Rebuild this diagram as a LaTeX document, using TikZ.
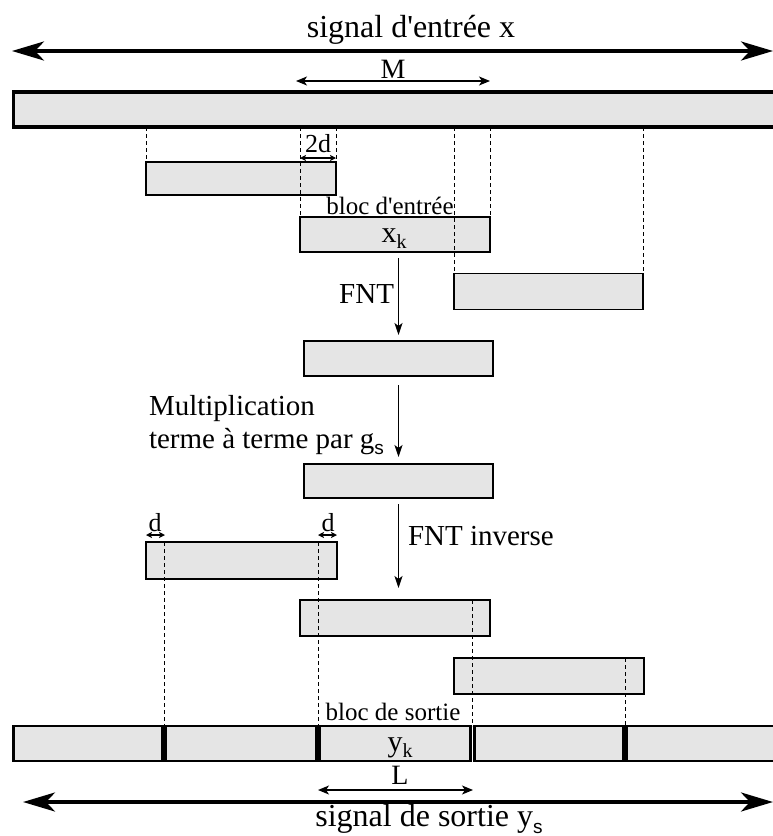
\documentclass[tikz,border=0pt]{standalone}
\usepackage{fontspec}
\setmainfont{Liberation Serif}
\newfontfamily\subsans{Liberation Sans}
\usetikzlibrary{arrows.meta,calc}
\definecolor{boxgray}{RGB}{229,229,229}
\newcommand{\fsz}[1]{\fontsize{#1}{#1}\selectfont}
\newcommand{\subk}[1]{\raisebox{-0.22em}{\fsz{20}#1}}
\newcommand{\subs}[1]{\raisebox{-0.22em}{\fsz{19}\subsans #1}}
\begin{document}
\begin{tikzpicture}[x=1pt,y=-1pt,
  blk/.style={draw, line width=1.6pt, fill=boxgray, inner sep=0pt, outer sep=0pt},
  bar/.style={draw, line width=3.2pt, fill=boxgray, inner sep=0pt, outer sep=0pt},
  seg/.style={draw, line width=2.8pt, fill=boxgray, inner sep=0pt, outer sep=0pt, minimum height=35pt},
  dsh/.style={line width=0.9pt, dash pattern=on 4pt off 3pt},
  bigarrow/.style={line width=3.6pt, {Stealth[length=32pt,width=19pt,inset=9pt]}-{Stealth[length=32pt,width=19pt,inset=9pt]}},
  dimarrow/.style={line width=1.4pt, {Stealth[length=11pt,width=9pt,inset=3pt]}-{Stealth[length=11pt,width=9pt,inset=3pt]}},
  tinyarrow/.style={line width=1.2pt, {Stealth[length=6pt,width=6pt,inset=1.5pt]}-{Stealth[length=6pt,width=6pt,inset=1.5pt]}},
  flow/.style={line width=1.4pt, -{Stealth[length=12pt,width=8pt,inset=3pt]}},
  txt/.style={inner sep=0pt, outer sep=0pt}
]
\useasboundingbox (0,0) rectangle (773,836);

% ---- input signal ----
\node[txt, anchor=base, font=\fsz{32}] (title) at (411,37) {signal d\textquotesingle entrée x};
\coordinate (tl) at (12,51);
\coordinate (tr) at (773,51);
\draw[bigarrow] (tl) -- (tr);
\node[txt, anchor=base, font=\fsz{28}] (Mlab) at (393,78) {M};
\coordinate (ml) at (296,81);
\coordinate (mr) at (490,81);
\draw[dimarrow] (ml) -- (mr);
\node[bar, minimum width=776.5pt, minimum height=35pt] (inbar) at (401.75,109.5) {};

% ---- input blocks ----
\node[blk, minimum width=190pt, minimum height=33pt] (b1) at (241,178.5) {};
\node[blk, minimum width=190pt, minimum height=35pt] (bx) at (395,234.5) {};
\node[blk, minimum width=189pt, minimum height=36pt] (b3) at (548.5,291.5) {};
\node[blk, minimum width=189pt, minimum height=35pt] (b4) at (398.5,358.5) {};
\node[blk, minimum width=189pt, minimum height=34pt] (b5) at (398.5,481) {};
\node[blk, minimum width=191pt, minimum height=37pt] (b6) at (241.5,560.5) {};
\node[blk, minimum width=190pt, minimum height=36pt] (b7) at (395,618) {};
\node[blk, minimum width=190pt, minimum height=36pt] (b8) at (549,676) {};

% dashed projections from the input signal
\draw[dsh] (b1.north west |- inbar.south) -- (b1.north west);
\draw[dsh] (b1.north east |- inbar.south) -- (b1.north east);
\draw[dsh] (bx.north west |- inbar.south) -- (bx.north west);
\draw[dsh] (bx.north east |- inbar.south) -- (bx.north east);
\draw[dsh] (b3.north west |- inbar.south) -- (b3.north west);
\draw[dsh] (b3.north east |- inbar.south) -- (b3.north east);

% 2d overlap
\node[txt, anchor=base, font=\fsz{26}] (twod) at (318,152) {2d};
\coordinate (t2l) at (300,158);
\coordinate (t2r) at (336,158);
\draw[tinyarrow] (t2l) -- (t2r);

\node[txt, anchor=base, font=\fsz{25}] (bde) at (390,214) {bloc d\textquotesingle entrée};
\node[txt, anchor=base, font=\fsz{30}] (xk) at (394,242) {x\subk{k}};

% processing arrows
\draw[flow] ($(b4.north |- bx.south)+(0,6)$) -- ($(b4.north)+(0,-6)$);
\node[txt, anchor=base east, font=\fsz{29}] (fnt) at (394,303) {FNT};
\draw[flow] ($(b4.south)+(0,9)$) -- ($(b5.north)+(0,-7)$);
\node[txt, anchor=base west, font=\fsz{29}] (mul1) at (149,415) {Multiplication};
\node[txt, anchor=base west, font=\fsz{29}] (mul2) at (149,448) {terme à terme par g\subs{s}};
\draw[flow] ($(b5.south)+(0,6)$) -- ($(b5.south |- b7.north)+(0,-12)$);
\node[txt, anchor=base west, font=\fsz{29}] (fnti) at (408,545) {FNT inverse};

% d discards
\node[txt, anchor=base, font=\fsz{26}] (d1) at (155,531) {d};
\node[txt, anchor=base, font=\fsz{26}] (d2) at (328,531) {d};
\coordinate (d1l) at (146,535);
\coordinate (d1r) at (165,535);
\coordinate (d2l) at (318,535);
\coordinate (d2r) at (337,535);
\draw[tinyarrow] (d1l) -- (d1r);
\draw[tinyarrow] (d2l) -- (d2r);

% ---- output signal ----
\node[seg, minimum width=148.7pt] (s1) at (87.85,743.5) {};
\node[seg, minimum width=150.4pt] (s2) at (241,743.5) {};
\node[seg, minimum width=151pt] (s3) at (395.3,743.5) {};
\node[seg, minimum width=148.8pt] (s4) at (548.8,743.5) {};
\node[seg, minimum width=163.2pt] (s5) at (708.4,743.5) {};

\coordinate (q1) at (164,726);
\coordinate (q2) at (318,726);
\coordinate (q3) at (472.6,726);
\coordinate (q4) at (625,726);
\draw[dsh] (q1 |- b6.north) -- (q1);
\draw[dsh] (q2 |- b6.north) -- (q2);
\draw[dsh] (q3 |- b7.north) -- (q3);
\draw[dsh] (q4 |- b8.north) -- (q4);

\node[txt, anchor=base, font=\fsz{25}] (bds) at (393,720) {bloc de sortie};
\node[txt, anchor=base, font=\fsz{30}] (yk) at (400,751) {y\subk{k}};
\node[txt, anchor=base, font=\fsz{28}] (Llab) at (400,784) {L};
\coordinate (ll) at (318,790);
\coordinate (lr) at (473,790);
\draw[dimarrow] (ll) -- (lr);
\coordinate (bl) at (23,802);
\coordinate (br) at (773,802);
\draw[bigarrow] (bl) -- (br);
\node[txt, anchor=base, font=\fsz{32}] (bottom) at (429,826) {signal de sortie y\subs{s}};
\end{tikzpicture}
\end{document}
